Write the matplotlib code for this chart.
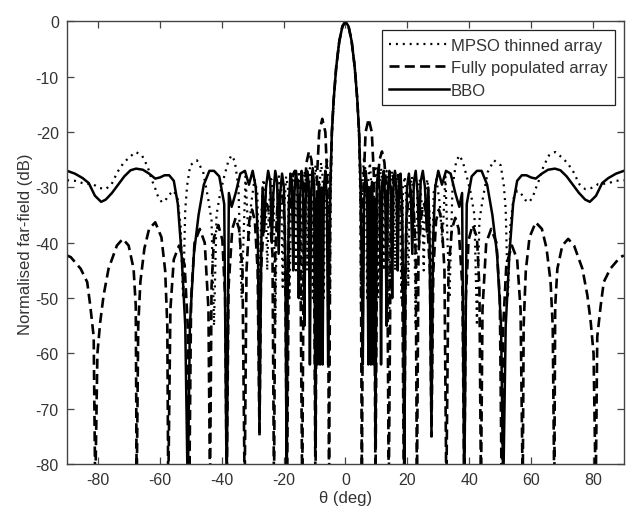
import numpy as np
import matplotlib
matplotlib.use("Agg")
import matplotlib.pyplot as plt

plt.rcParams['font.family'] = ['Liberation Sans', 'DejaVu Sans']
plt.rcParams['axes.unicode_minus'] = False

# Pattern values for theta >= 0 (pattern is symmetric)
mpso_theta = [0, 1, 2, 3, 3.8, 4.4, 4.8, 5.0, 5.4, 6.0, 6.6, 7.0, 7.4, 7.9, 8.4, 8.8, 9.2, 9.7,
              10.2, 10.6, 11.0, 11.5, 12.0, 12.4, 12.8, 13.3, 13.8, 14.2, 14.6, 15.1, 15.6, 16.0,
              16.5, 17.0, 17.6, 18.1, 18.6, 19.2, 19.8, 20.3, 20.8, 21.5, 22.2, 22.7, 23.2, 24.0,
              24.8, 25.3, 25.8, 26.5, 27.3, 27.9, 28.5, 29.4, 30.5, 31.3, 32.3, 33.6, 34.6, 35.8,
              36.9, 38.0, 39.2, 40.5, 41.7, 42.5, 43.3, 44.4, 46.0, 48.0, 50.2, 51.2, 51.8, 52.5,
              53.3, 54.3, 55.5, 57.0, 58.2, 59.3, 60.5, 61.5, 62.5, 64.0, 65.8, 67.8, 69.8, 71.8,
              73.7, 75.6, 77.5, 79.5, 81.7, 84.5, 87.5, 90]
mpso_db = [0, -0.9, -3.6, -8.3, -14, -21, -33, -51, -30, -24.5, -28, -50, -28, -25.5, -30, -55, -30, -26,
           -30, -50, -29, -26.5, -30, -45, -29, -27, -31, -52, -30, -27, -31, -45,
           -29, -27.5, -33, -50, -30, -28, -34, -48, -30, -28, -35, -55, -32, -28.5,
           -34, -45, -31, -28.5, -36, -50, -31, -28.5, -33, -40, -28, -50, -30, -25.2,
           -24.2, -25.5, -28, -31, -35, -55, -36, -32, -27.2, -25.1, -26, -29.7, -34, -50,
           -37, -32, -30.6, -31.3, -32.3, -32.7, -31.8, -30.2, -28.8, -26.2, -24.2, -23.6, -24.5, -25.6,
           -27.2, -29.4, -30.3, -30.1, -29.4, -29.3, -28.8, -28.7]

full_theta = [0, 1, 2, 3, 3.8, 4.4, 4.9, 5.3, 5.8, 6.5, 7.5, 8.5, 9.2, 9.7, 10.3, 11.0, 11.8, 12.6,
              13.4, 14.0, 14.7, 15.5, 16.4, 17.3, 18.2, 18.9, 19.6, 20.3, 21.1, 22.0, 22.7, 23.1,
              23.6, 24.5, 25.4, 26.3, 27.3, 27.8, 28.4, 29.3, 30.2, 31.1, 32.0, 32.6, 33.3, 34.4,
              35.5, 36.6, 37.8, 38.4, 38.9, 39.8, 41.1, 42.5, 43.3, 43.8, 44.3, 45.5, 47.1, 48.8,
              49.9, 50.5, 51.0, 52.0, 53.8, 55.5, 56.6, 57.3, 57.6, 58.3, 59.5, 61.5, 63.5, 65.0,
              66.3, 67.0, 67.5, 67.8, 68.5, 70.1, 72.0, 73.9, 76.6, 78.2, 79.3, 80.2, 80.9, 81.4,
              82.5, 83.5, 85.6, 88.8, 90]
full_db = [0, -0.9, -3.6, -8.3, -14, -20, -30, -85, -30, -20, -17.6, -20, -28, -85, -30, -25, -23.5, -25.5,
           -32, -85, -33, -28, -27, -28.5, -35, -85, -37, -32, -30.5, -33, -42, -85,
           -42, -35, -33, -35, -45, -75, -45, -36, -34, -36, -45, -85, -45, -37.5,
           -35.5, -37.5, -48, -85, -50, -39.5, -36.8, -39, -48, -85, -52, -40, -37.5, -40,
           -50, -85, -55, -44, -40.5, -43, -52, -85, -55, -45, -39, -36.3, -37.5, -41,
           -47, -55, -85, -51.4, -44.7, -40.5, -39.3, -40.5, -44.7, -49.5, -54.4, -60, -85, -57,
           -51.4, -47.1, -44.7, -42.6, -42.3]

bbo_theta = [0, 1, 2, 3, 3.8, 4.4, 4.9, 5.3, 5.6, 6.0, 6.5, 7.0, 7.4, 7.8, 8.2, 8.6, 9.0, 9.4,
             9.7, 10.1, 10.6, 11.1, 11.5, 11.9, 12.4, 12.9, 13.3, 13.7, 14.2, 14.7, 15.1, 15.5,
             16.0, 16.5, 16.9, 17.3, 17.8, 18.3, 18.7, 19.0, 19.4, 19.9, 20.5, 21.1, 21.6, 22.1,
             22.7, 23.3, 23.8, 24.3, 25.0, 25.7, 26.3, 26.8, 27.2, 27.8, 28.3, 29.0, 30.0, 31.2,
             32.5, 34.0, 35.5, 36.8, 37.7, 38.4, 39.2, 40.8, 42.5, 44.0, 45.8, 47.5, 49.0, 50.3,
             51.0, 51.8, 53.0, 54.2, 55.5, 57.0, 58.5, 60.0, 61.5, 63.5, 65.5, 67.7, 69.5, 71.5,
             73.5, 75.5, 77.5, 79.0, 81.0, 83.0, 85.0, 87.5, 90]
bbo_db = [0, -0.9, -3.6, -8.3, -14, -20, -30, -45, -62, -33, -27, -30, -62, -30, -62, -29, -62, -32,
          -77, -30, -26.5, -31, -62, -29, -27, -33, -55, -30, -27, -32, -50, -30,
          -27, -31, -45, -29, -27.5, -33, -50, -85, -45, -30, -27.5, -31, -42, -29,
          -27, -31, -40, -29, -27, -30, -38, -30, -40, -74, -40, -30, -27, -29.5,
          -27, -27.5, -31, -33.5, -31, -85, -33, -28, -27, -27, -29.5, -35, -42, -55,
          -85, -55, -42, -33, -28.8, -27.8, -27.8, -28.2, -28.4, -27.5, -26.8, -26.6, -26.9, -28,
          -29.5, -31, -32.2, -32.6, -31.5, -29.2, -28.3, -27.5, -27]

x_ticks = [-80, -60, -40, -20, 0, 20, 40, 60, 80]
y_ticks = [-80, -70, -60, -50, -40, -30, -20, -10, 0]


def mirror(t, v):
    t = np.asarray(t, float)
    v = np.asarray(v, float)
    return np.concatenate([-t[::-1], t[1:]]), np.concatenate([v[::-1], v[1:]])


fig = plt.figure(figsize=(6.27, 5.10), dpi=100)
ax = fig.add_axes([0.107, 0.088, 0.888, 0.868])

tc = '#333333'
t, v = mirror(mpso_theta, mpso_db)
ax.plot(t, v, color='black', lw=1.6, linestyle=(0, (0.9, 2.2)), label='MPSO thinned array')
t, v = mirror(full_theta, full_db)
ax.plot(t, v, color='black', lw=1.9, linestyle=(0, (3.8, 2.0)), label='Fully populated array')
t, v = mirror(bbo_theta, bbo_db)
ax.plot(t, v, color='black', lw=1.8, linestyle='-', label='BBO')

ax.set_xlim(-90, 90)
ax.set_ylim(-80, 0)
ax.set_xticks(x_ticks)
ax.set_yticks(y_ticks)
ax.tick_params(direction='in', top=True, right=True, length=5, width=0.9,
               labelsize=11.5, labelcolor=tc, colors='#444444', pad=6)
for s in ax.spines.values():
    s.set_color('#444444')
    s.set_linewidth(1.0)

ax.set_xlabel('θ (deg)', fontsize=12, color=tc, labelpad=2)
ax.set_ylabel('Normalised far-field (dB)', fontsize=12, color=tc, labelpad=2)

leg = ax.legend(loc='upper right', bbox_to_anchor=(0.984, 0.98), fontsize=12,
                handlelength=3.6, handletextpad=0.1, borderpad=0.45, labelspacing=0.45,
                fancybox=False, framealpha=1, edgecolor='#222222', borderaxespad=0)
leg.get_frame().set_linewidth(0.9)
for txt in leg.get_texts():
    txt.set_color(tc)

fig.savefig('out.png', dpi=100)
